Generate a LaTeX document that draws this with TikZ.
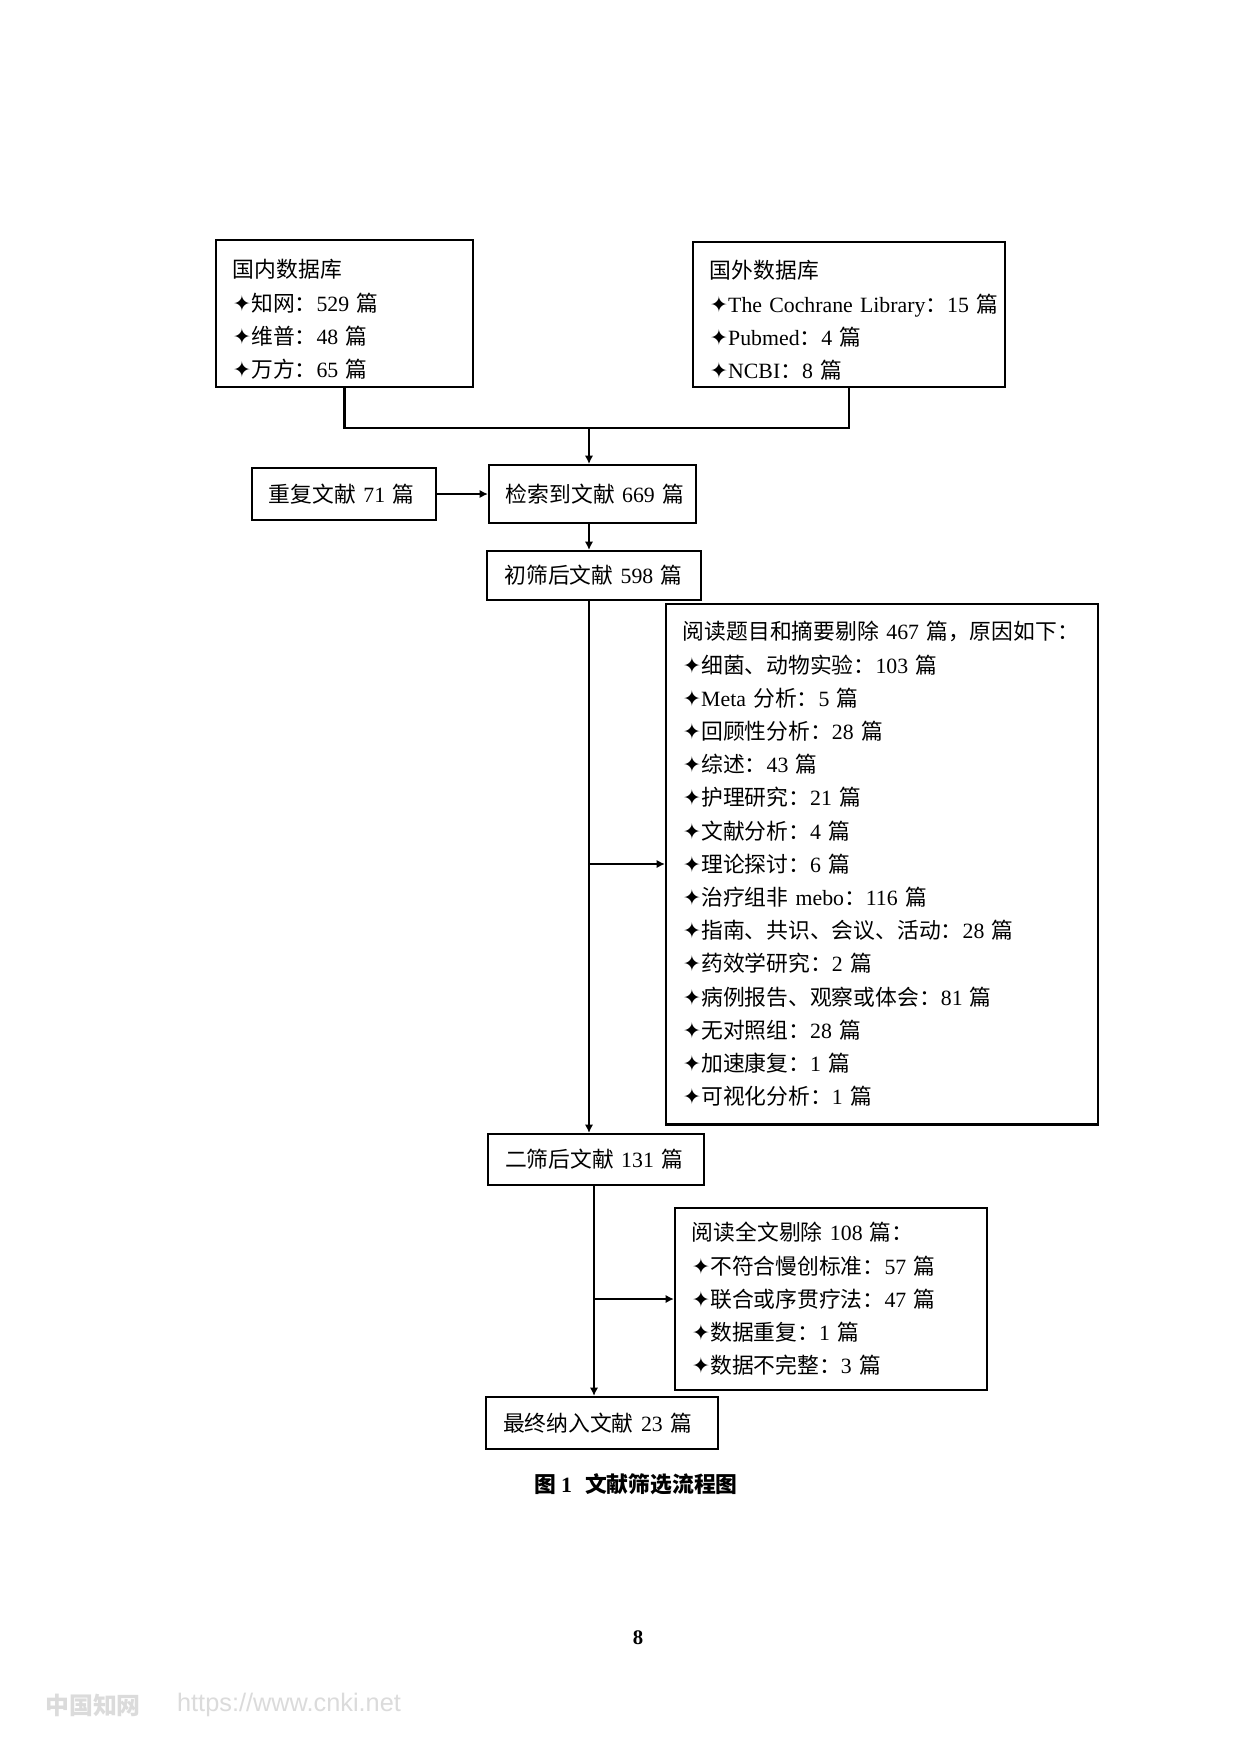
\documentclass[tikz,border=0pt]{standalone}
\usepackage{fontspec}
\setmainfont{Liberation Serif}
\newfontfamily\cjk{Noto Sans CJK SC}
\newfontfamily\symf{DejaVu Sans}
\newfontfamily\wmsans{Liberation Sans}
\newcommand\lt[1]{{\rmfamily #1}}
\newcommand\mystar{{\symf ✦}}
\newcommand\topstrut{\rule{0pt}{14.5pt}}
\usetikzlibrary{arrows.meta}
\tikzset{
  box/.style={draw, line width=1pt, inner xsep=8.19pt, inner ysep=0pt, align=left,
    font=\cjk\fontsize{10.5pt}{16pt}\selectfont},
  ln/.style={line width=1pt},
  arr/.style={line width=1pt, -{Latex[length=4pt,width=4pt]}}
}
\begin{document}
\begin{tikzpicture}[x=0.169355mm, y=-0.169355mm]
\fill[white] (0,0) rectangle (1240,1754);
\useasboundingbox (0,0) rectangle (1240,1754);

\node[box, text width=107.5pt, minimum height=70.8pt] (dom) at (344.5,313.5)
  {\topstrut 国内数据库\\ \mystar 知网：\lt{529}~篇\\ \mystar 维普：\lt{48}~篇\\ \mystar 万方：\lt{65}~篇};
\node[box, text width=134.0pt, minimum height=69.9pt] (intl) at (849,314.5)
  {\topstrut 国外数据库\\ \mbox{\mystar\lt{The Cochrane Library}：\lt{15}~篇}\\ \mystar\lt{Pubmed}：\lt{4}~篇\\ \mystar\lt{NCBI}：\lt{8}~篇};
\node[box, text width=72.3pt, minimum height=25.1pt] (dup) at (344,494) {重复文献~\lt{71}~篇};
\node[box, text width=83.4pt, minimum height=27.9pt] (found) at (592.5,494) {检索到文献~\lt{669}~篇};
\node[box, text width=86.3pt, minimum height=23.6pt] (first) at (594,575.5) {初筛后文献~\lt{598}~篇};
\node[box, text width=191.8pt, minimum height=251.0pt] (excl1) at (882,864)
  {阅读题目和摘要剔除~\lt{467}~篇，原因如下：\\
   \mystar 细菌、动物实验：\lt{103}~篇\\
   \mystar\lt{Meta}~分析：\lt{5}~篇\\
   \mystar 回顾性分析：\lt{28}~篇\\
   \mystar 综述：\lt{43}~篇\\
   \mystar 护理研究：\lt{21}~篇\\
   \mystar 文献分析：\lt{4}~篇\\
   \mystar 理论探讨：\lt{6}~篇\\
   \mystar 治疗组非~\lt{mebo}：\lt{116}~篇\\
   \mystar 指南、共识、会议、活动：\lt{28}~篇\\
   \mystar 药效学研究：\lt{2}~篇\\
   \mystar 病例报告、观察或体会：\lt{81}~篇\\
   \mystar 无对照组：\lt{28}~篇\\
   \mystar 加速康复：\lt{1}~篇\\
   \mystar 可视化分析：\lt{1}~篇};
\node[box, text width=87.7pt, minimum height=24.6pt] (second) at (596,1159.5) {二筛后文献~\lt{131}~篇};
\node[box, text width=134.0pt, minimum height=87.7pt] (excl2) at (831,1299)
  {阅读全文剔除~\lt{108}~篇：\\
   \mystar 不符合慢创标准：\lt{57}~篇\\
   \mystar 联合或序贯疗法：\lt{47}~篇\\
   \mystar 数据重复：\lt{1}~篇\\
   \mystar 数据不完整：\lt{3}~篇};
\node[box, text width=95.4pt, minimum height=25.1pt] (final) at (602,1423) {最终纳入文献~\lt{23}~篇};

\coordinate (j) at (589,428);
\coordinate (k) at (594,1200);

\draw[ln] (dom.south) |- (j) -| (intl.south);
\draw[arr] (j) -- (j |- found.north);
\draw[arr] (dup.east) -- (found.west);
\draw[arr] (found.south -| j) -- (first.north -| j);
\draw[arr] (first.south -| j) -- (second.north -| j);
\draw[arr] (excl1.west -| j) -- (excl1.west);
\draw[arr] (second.south -| k) -- (final.north -| k);
\draw[arr] (excl2.west -| k) -- (excl2.west);

\node[font=\cjk\bfseries\fontsize{10.5pt}{12pt}\selectfont] (cap) at (636,1484)
  {图~\lt{1}\hspace{0.6em}文献筛选流程图};
\node[font=\rmfamily\bfseries\fontsize{10pt}{12pt}\selectfont] (pg) at (638,1638) {8};
\node[text=black!14, font=\cjk\bfseries\fontsize{11.5pt}{12pt}\selectfont] (wm1) at (93,1705) {中国知网};
\node[text=black!14, font=\wmsans\fontsize{12.2pt}{14pt}\selectfont] (wm2) at (289,1705) {https://www.cnki.net};
\end{tikzpicture}
\end{document}
